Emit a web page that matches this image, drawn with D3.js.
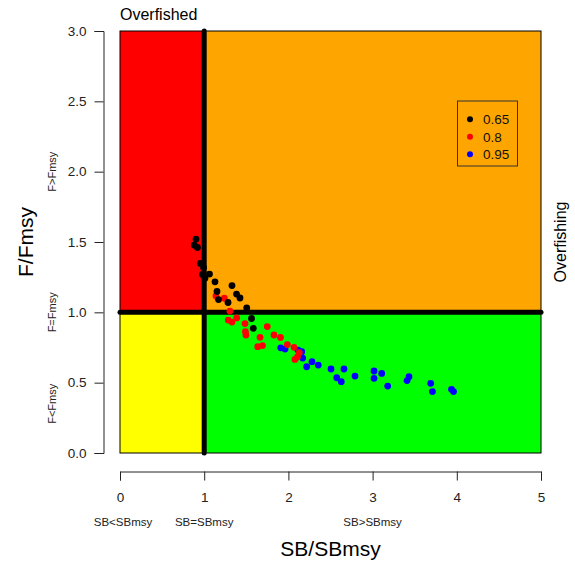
<!DOCTYPE html>
<html>
<head>
<meta charset="utf-8">
<script src="https://cdn.jsdelivr.net/npm/d3@7"></script>
<style>
  body { margin: 0; background: #fff; }
  svg text { font-family: "Liberation Sans", Arial, sans-serif; }
</style>
</head>
<body>
<div id="chart"></div>
<script>
// kobe plot data
var xTicks = [0, 1, 2, 3, 4, 5];
var yTicks = [0, 0.5, 1, 1.5, 2, 2.5, 3];
var seriesNames = ["0.65", "0.8", "0.95"];
var seriesColors = ["#000000", "#ff0000", "#0000ff"];

var sb065 = [0.903, 0.882, 0.920, 0.956, 0.992, 0.980, 1.063, 1.009, 1.128, 1.330, 1.152, 1.384, 1.170, 1.425, 1.283, 1.505, 1.562, 1.583];
var f065  = [1.521, 1.478, 1.461, 1.348, 1.318, 1.269, 1.272, 1.242, 1.217, 1.190, 1.148, 1.130, 1.091, 1.102, 1.070, 1.031, 0.956, 0.886];

var sb080 = [1.140, 1.239, 1.306, 1.286, 1.330, 1.386, 1.485, 1.490, 1.496, 1.749, 1.829, 1.906, 1.663, 1.635, 1.692, 1.987, 2.067, 2.129, 2.108, 2.078];
var f080  = [1.116, 1.100, 1.009, 0.945, 0.931, 0.960, 0.920, 0.862, 0.839, 0.899, 0.839, 0.821, 0.822, 0.756, 0.764, 0.771, 0.751, 0.713, 0.684, 0.665];

var sb095 = [1.909, 1.960, 2.114, 2.158, 2.170, 2.280, 2.217, 2.355, 2.506, 2.660, 2.574, 2.628, 2.791, 3.017, 3.108, 3.017, 3.179, 3.432, 3.409, 3.690, 3.711, 3.937, 3.961];
var f095  = [0.748, 0.739, 0.732, 0.720, 0.675, 0.649, 0.613, 0.625, 0.597, 0.597, 0.535, 0.507, 0.547, 0.583, 0.566, 0.531, 0.476, 0.542, 0.515, 0.495, 0.437, 0.453, 0.437];

var width = 575, height = 563;
var margin = { top: 31, right: 34, bottom: 110, left: 120 };

var svg = d3.select("#chart").append("svg")
  .attr("width", width)
  .attr("height", height);

var x = d3.scaleLinear().domain([0, 5]).range([margin.left, width - margin.right]);
var y = d3.scaleLinear().domain([0, 3]).range([height - margin.bottom, margin.top]);

// quadrants
var zones = [
  { x0: 0, x1: 1, y0: 1, y1: 3, fill: "#ff0000" },
  { x0: 1, x1: 5, y0: 1, y1: 3, fill: "#ffa500" },
  { x0: 0, x1: 1, y0: 0, y1: 1, fill: "#ffff00" },
  { x0: 1, x1: 5, y0: 0, y1: 1, fill: "#00ff00" }
];
svg.selectAll("rect.zone")
  .data(zones)
  .enter()
  .append("rect")
    .attr("class", "zone")
    .attr("x", d => x(d.x0))
    .attr("y", d => y(d.y1))
    .attr("width", d => x(d.x1) - x(d.x0))
    .attr("height", d => y(d.y0) - y(d.y1))
    .attr("fill", d => d.fill)
    .attr("stroke", "#000")
    .attr("stroke-width", 1);

// reference lines at 1
svg.append("line")
  .attr("x1", x(1)).attr("x2", x(1))
  .attr("y1", y(3)).attr("y2", y(0))
  .attr("stroke", "#000").attr("stroke-width", 5).attr("stroke-linecap", "round");
svg.append("line")
  .attr("x1", x(0)).attr("x2", x(5))
  .attr("y1", y(1)).attr("y2", y(1))
  .attr("stroke", "#000").attr("stroke-width", 5).attr("stroke-linecap", "round");

// axes, detached like R
var xAxis = svg.append("g")
  .attr("transform", "translate(0," + 471.5 + ")")
  .call(d3.axisBottom(x).tickValues(xTicks).tickSize(9).tickPadding(12).tickFormat(d3.format("d")));
var yAxis = svg.append("g")
  .attr("transform", "translate(" + 103.5 + ",0)")
  .call(d3.axisLeft(y).tickValues(yTicks).tickSize(9).tickPadding(8).tickFormat(d3.format(".1f")));

[xAxis, yAxis].forEach(function (g) {
  g.select(".domain").attr("stroke", "#222");
  g.selectAll(".tick line").attr("stroke", "#222");
  g.selectAll(".tick text")
    .attr("fill", "#222")
    .style("font-size", "13.5px")
    .style("font-family", "Liberation Sans, Arial, sans-serif");
});

// points
var series = [
  { name: seriesNames[2], color: seriesColors[2], sb: sb095, f: f095 },
  { name: seriesNames[1], color: seriesColors[1], sb: sb080, f: f080 },
  { name: seriesNames[0], color: seriesColors[0], sb: sb065, f: f065 }
];
series.forEach(function (s) {
  svg.append("g")
    .selectAll("circle")
    .data(s.sb.map((v, i) => [v, s.f[i]]))
    .enter()
    .append("circle")
      .attr("cx", d => x(d[0]))
      .attr("cy", d => y(d[1]))
      .attr("r", 3.4)
      .attr("fill", s.color);
});

// legend
var legend = svg.append("g");
legend.append("rect")
  .attr("x", 457.5).attr("y", 101)
  .attr("width", 60).attr("height", 65)
  .attr("fill", "none").attr("stroke", "#333").attr("stroke-width", 1);
seriesNames.forEach(function (name, i) {
  var cy = 119.3 + i * 17.5;
  legend.append("circle")
    .attr("cx", 470).attr("cy", cy).attr("r", 3)
    .attr("fill", seriesColors[i]);
  legend.append("text")
    .attr("x", 483).attr("y", cy + 5)
    .style("font-size", "13.5px")
    .attr("fill", "#111")
    .text(name);
});

// labels
svg.append("text")
  .attr("x", x(0)).attr("y", 20)
  .style("font-size", "16px")
  .text("Overfished");

svg.append("text")
  .attr("transform", "translate(566," + y(1.5) + ") rotate(-90)")
  .attr("text-anchor", "middle")
  .style("font-size", "16px")
  .text("Overfishing");

svg.append("text")
  .attr("x", (x(0) + x(5)) / 2).attr("y", 556)
  .attr("text-anchor", "middle")
  .style("font-size", "21px")
  .text("SB/SBmsy");

svg.append("text")
  .attr("transform", "translate(33," + y(1.5) + ") rotate(-90)")
  .attr("text-anchor", "middle")
  .style("font-size", "21px")
  .text("F/Fmsy");

var sbLabels = [[0, "SB<SBmsy", 3], [1, "SB=SBmsy", 0], [3, "SB>SBmsy", 0]];
sbLabels.forEach(function (d) {
  svg.append("text")
    .attr("x", x(d[0]) + d[2]).attr("y", 526)
    .attr("text-anchor", "middle")
    .style("font-size", "11.5px")
    .attr("fill", "#222")
    .text(d[1]);
});

var fLabels = [[2, "F>Fmsy"], [1, "F=Fmsy"], [0.35, "F<Fmsy"]];
fLabels.forEach(function (d) {
  svg.append("text")
    .attr("transform", "translate(56," + y(d[0]) + ") rotate(-90)")
    .attr("text-anchor", "middle")
    .style("font-size", "11px")
    .attr("fill", "#222")
    .text(d[1]);
});
</script>
</body>
</html>
